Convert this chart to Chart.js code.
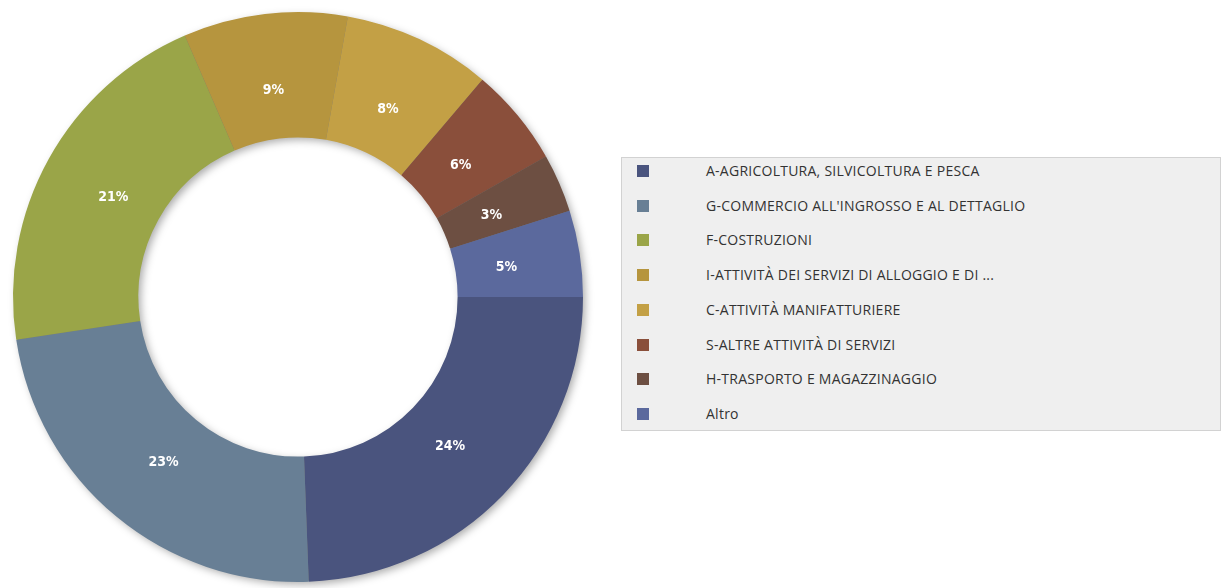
<!DOCTYPE html>
<html>
<head>
<meta charset="utf-8">
<script src="https://cdn.jsdelivr.net/npm/chart.js@4/dist/chart.umd.min.js"></script>
<style>
  html, body { margin: 0; padding: 0; background: #ffffff; width: 1223px; height: 588px; overflow: hidden; }
  #chartBox { position: absolute; left: 0; top: 0; width: 600px; height: 588px; }
  #legend { position: absolute; left: 621px; top: 157px; width: 600px; height: 274px;
    background: #efefef; border: 1px solid #d2d2d2; box-sizing: border-box;
    font-family: "Open Sans", "Noto Sans", sans-serif; font-size: 14px; color: #333; }
  .item { position: absolute; left: 0; height: 20px; width: 100%; }
  .sw { position: absolute; left: 15px; top: 4px; width: 12px; height: 12px; }
  .tx { position: absolute; left: 84px; top: 2px; line-height: 16px; white-space: nowrap; letter-spacing: 0.25px; }
</style>
</head>
<body>
<div id="chartBox"><canvas id="c"></canvas></div>
<div id="legend"></div>
<script>
const categories = [
  "A-AGRICOLTURA, SILVICOLTURA E PESCA",
  "G-COMMERCIO ALL'INGROSSO E AL DETTAGLIO",
  "F-COSTRUZIONI",
  "I-ATTIVITÀ DEI SERVIZI DI ALLOGGIO E DI ...",
  "C-ATTIVITÀ MANIFATTURIERE",
  "S-ALTRE ATTIVITÀ DI SERVIZI",
  "H-TRASPORTO E MAGAZZINAGGIO",
  "Altro"
];
const shares = [24.4, 23.2, 20.9, 9.3, 8.4, 5.6, 3.3, 4.9];
const colors = ["#4a547e", "#687f95", "#9aa548", "#b6953e", "#c3a045", "#8a4f3b", "#6d4f42", "#5b699d"];

const total = shares.reduce((a, b) => a + b, 0);

// HTML legend built from the arrays
const lg = document.getElementById('legend');
categories.forEach((name, i) => {
  const it = document.createElement('div');
  it.className = 'item';
  it.style.top = (3 + i * 34.7) + 'px';
  const sw = document.createElement('div');
  sw.className = 'sw';
  sw.style.background = colors[i];
  const tx = document.createElement('div');
  tx.className = 'tx';
  tx.textContent = name;
  it.appendChild(sw); it.appendChild(tx);
  lg.appendChild(it);
});

const ringShadow = {
  id: 'ringShadow',
  beforeDatasetsDraw(chart) {
    const meta = chart.getDatasetMeta(0);
    const a = meta.data[0];
    if (!a) return;
    const ctx = chart.ctx;
    ctx.save();
    ctx.shadowColor = 'rgba(0,0,0,0.35)';
    ctx.shadowBlur = 8;
    ctx.shadowOffsetX = 3;
    ctx.shadowOffsetY = 3;
    ctx.beginPath();
    ctx.arc(a.x, a.y, a.outerRadius - 1, 0, Math.PI * 2, false);
    ctx.arc(a.x, a.y, a.innerRadius + 1, 0, Math.PI * 2, true);
    ctx.closePath();
    ctx.fillStyle = '#777';
    ctx.fill();
    ctx.restore();
  }
};

const pctLabels = {
  id: 'pctLabels',
  afterDatasetsDraw(chart) {
    const meta = chart.getDatasetMeta(0);
    const ctx = chart.ctx;
    ctx.save();
    ctx.fillStyle = '#ffffff';
    ctx.font = 'bold 14px "DejaVu Sans Condensed", "DejaVu Sans", sans-serif';
    ctx.textAlign = 'center';
    ctx.textBaseline = 'middle';
    meta.data.forEach((arc, i) => {
      const p = arc.getProps(['x', 'y', 'startAngle', 'endAngle', 'innerRadius', 'outerRadius']);
      const mid = (p.startAngle + p.endAngle) / 2;
      const r = p.innerRadius + (p.outerRadius - p.innerRadius) * 0.41;
      const pct = Math.round(shares[i] / total * 100);
      ctx.fillText(pct + '%', p.x + Math.cos(mid) * r, p.y + Math.sin(mid) * r + 3);
    });
    ctx.restore();
  }
};

new Chart(document.getElementById('c'), {
  type: 'doughnut',
  data: {
    labels: categories,
    datasets: [{
      data: shares,
      backgroundColor: colors,
      borderWidth: 0,
      hoverOffset: 0
    }]
  },
  options: {
    responsive: true,
    maintainAspectRatio: false,
    animation: false,
    rotation: 90,
    cutout: '56%',
    layout: { padding: { left: 13, right: 17, top: 12, bottom: 6 } },
    plugins: {
      legend: { display: false },
      tooltip: { enabled: false }
    }
  },
  plugins: [ringShadow, pctLabels]
});
</script>
</body>
</html>
